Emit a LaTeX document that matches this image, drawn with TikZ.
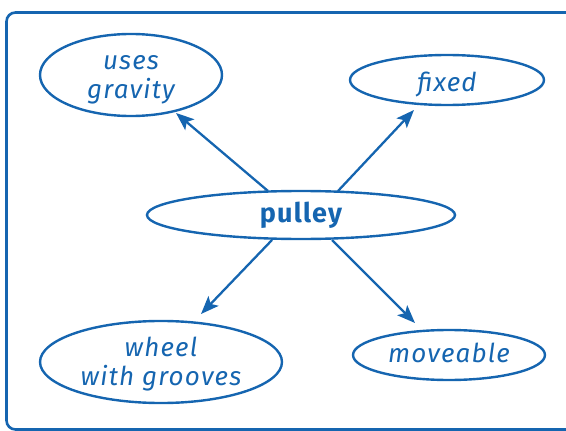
\documentclass[tikz,border=0pt]{standalone}
\usepackage{fontspec}
\setmainfont{Fira Sans}[LetterSpace=4.5]
\usetikzlibrary{shapes.geometric,arrows.meta}
\definecolor{cblue}{HTML}{1565B0}
\begin{document}
\begin{tikzpicture}[x=1pt,y=-1pt,
  bubble/.style={draw=cblue,line width=2.4pt,ellipse,inner sep=0pt,text=cblue,align=center,
    font=\fontsize{26}{29}\selectfont\itshape},
  link/.style={draw=cblue,line width=2.3pt,-{Stealth[length=18pt,width=14pt,inset=4pt]}}]
\useasboundingbox (0,0) rectangle (566,431);
\begin{scope}
\clip (0,0) rectangle (566,431);
\draw[cblue,line width=2.6pt,rounded corners=9pt] (6.5,12.5) rectangle (620,429.5);
\end{scope}
\node[bubble,minimum width=182pt,minimum height=74pt,text height=52pt,text depth=6pt] (grav) at (131,75) {uses\\gravity};
\node[bubble,minimum width=194pt,minimum height=50pt,text height=22pt,text depth=0pt] (fixed) at (447,80) {fixed};
\node[bubble,minimum width=308pt,minimum height=48pt,text height=20pt,text depth=6pt,font=\fontsize{27}{30}\selectfont\bfseries] (pulley) at (301,215) {pulley};
\node[bubble,minimum width=242pt,minimum height=80pt,text height=52pt,text depth=6pt] (wheel) at (161,362) {wheel\\with grooves};
\node[bubble,minimum width=192pt,minimum height=50pt,text height=19pt,text depth=5pt] (move) at (449,355) {moveable};
\coordinate (a1) at (268,191);
\coordinate (a2) at (338,191);
\coordinate (a3) at (272,240);
\coordinate (a4) at (332,240);
\coordinate (t1) at (176,113);
\coordinate (t2) at (414,110);
\coordinate (t3) at (201,314);
\coordinate (t4) at (415,323);
\draw[link] (a1) -- (t1);
\draw[link] (a2) -- (t2);
\draw[link] (a3) -- (t3);
\draw[link] (a4) -- (t4);
\end{tikzpicture}
\end{document}
